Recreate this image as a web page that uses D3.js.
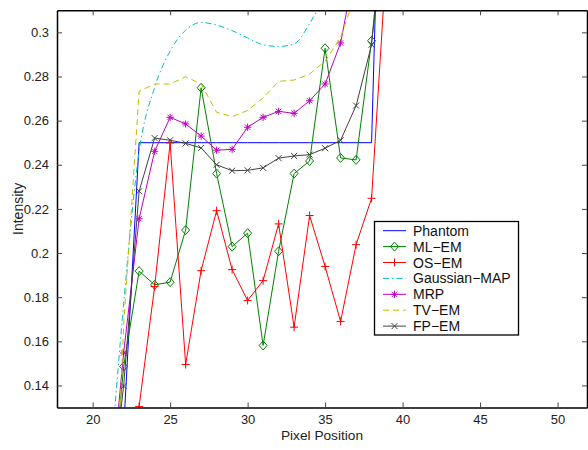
<!DOCTYPE html>
<html><head><meta charset="utf-8">
<script src="https://cdn.jsdelivr.net/npm/d3@7"></script>
<style>body{margin:0;background:#fff;}svg{display:block;font-family:"Liberation Sans",Arial,sans-serif;}</style>
</head><body><svg id="c" width="588" height="450"></svg>
<script>
const pixelPos = [21,22,23,24,25,26,27,28,29,30,31,32,33,34,35,36,37,38,39];
const phantom  = [0.10,0.12,0.25,0.25,0.25,0.25,0.25,0.25,0.25,0.25,0.25,0.25,0.25,0.25,0.25,0.25,0.25,0.25,0.50];
const mlem     = [0.07,0.1486,0.1918,0.1856,0.1868,0.2104,0.2749,0.236,0.2029,0.209,0.1581,0.2008,0.236,0.2417,0.2928,0.2431,0.2422,0.2962,0.35];
const osem     = [0.05,0.09,0.1305,0.1848,0.2499,0.1495,0.192,0.2192,0.1925,0.1785,0.1875,0.2132,0.1664,0.217,0.1939,0.169,0.2038,0.2248,0.338];
const gaussMap = [0.09,0.177,0.246,0.275,0.2915,0.301,0.3045,0.3033,0.3008,0.2975,0.2944,0.2936,0.2948,0.304,0.318,0.34,0.37,0.40,0.43];
const mrp      = [0.08,0.1547,0.2155,0.2461,0.2615,0.2585,0.253,0.2466,0.247,0.257,0.2615,0.2642,0.2633,0.269,0.2766,0.2952,0.332,0.37,0.41];
const tvem     = [0.0,0.167,0.2733,0.2766,0.2766,0.2799,0.2766,0.2638,0.2618,0.2646,0.2703,0.2778,0.2784,0.2811,0.2869,0.2977,0.318,0.34,0.37];
const fpem     = [0.08,0.1397,0.228,0.2521,0.2511,0.2497,0.2476,0.24,0.2373,0.2375,0.2386,0.243,0.244,0.2446,0.2475,0.2511,0.2668,0.2944,0.372];
const xTicks = [20,25,30,35,40,45,50];
const yTicks = [0.14,0.16,0.18,0.2,0.22,0.24,0.26,0.28,0.3];
const seriesNames = ["Phantom","ML\u2212EM","OS\u2212EM","Gaussian\u2212MAP","MRP","TV\u2212EM","FP\u2212EM"];

const series = [
  {name:seriesNames[0], v:phantom,  color:"#0000ff", dash:null, marker:null},
  {name:seriesNames[1], v:mlem,     color:"#008000", dash:null, marker:"diamond"},
  {name:seriesNames[2], v:osem,     color:"#ff0000", dash:null, marker:"plus"},
  {name:seriesNames[3], v:gaussMap, color:"#00bfbf", dash:"6,3,1.5,3", marker:null, smooth:true},
  {name:seriesNames[4], v:mrp,      color:"#bf00bf", dash:null, marker:"star"},
  {name:seriesNames[5], v:tvem,     color:"#bfbf00", dash:"6,4", marker:null},
  {name:seriesNames[6], v:fpem,     color:"#404040", dash:null, marker:"x"}
];

const L=57, R=587, T=10.3, B=407.5;
const x = d3.scaleLinear().domain([17.7,51.9]).range([L,R]);
const y = d3.scaleLinear().domain([0.13,0.31]).range([B,T]);
const svg = d3.select("#c");

svg.append("defs").append("clipPath").attr("id","clip")
  .append("rect").attr("x",L).attr("y",T).attr("width",R-L).attr("height",B-T);

function markerPath(type){
  switch(type){
    case "diamond": return "M0,-4.5L4,0L0,4.5L-4,0Z";
    case "plus": return "M-4,0H4M0,-4V4";
    case "star": return "M-3.6,0H3.6M0,-3.6V3.6M-2.6,-2.6L2.6,2.6M-2.6,2.6L2.6,-2.6";
    case "x": return "M-3,-3L3,3M-3,3L3,-3";
  }
}

const g = svg.append("g").attr("clip-path","url(#clip)");
series.forEach(s=>{
  const pts = pixelPos.map((p,i)=>[p,s.v[i]]);
  const line = d3.line().x(d=>x(d[0])).y(d=>y(d[1]))
    .curve(s.smooth ? d3.curveMonotoneX : d3.curveLinear);
  g.append("path").attr("d",line(pts)).attr("fill","none")
    .attr("stroke",s.color).attr("stroke-width",1)
    .attr("stroke-dasharray",s.dash);
  if(s.marker){
    g.selectAll(null).data(pts).enter().append("path")
      .attr("transform",d=>`translate(${x(d[0])},${y(d[1])})`)
      .attr("d",markerPath(s.marker)).attr("fill","none")
      .attr("stroke",s.color).attr("stroke-width",1);
  }
});

// axes box and ticks (MATLAB style, inward)
const xb = d3.axisBottom(x).tickValues(xTicks).tickSizeInner(-5).tickSizeOuter(0).tickPadding(7).tickFormat(d3.format("d"));
const xt = d3.axisTop(x).tickValues(xTicks).tickSizeInner(-5).tickSizeOuter(0).tickFormat("");
const yl = d3.axisLeft(y).tickValues(yTicks).tickSizeInner(-5).tickSizeOuter(0).tickPadding(8).tickFormat(d=>String(+d.toFixed(2)));
const yr = d3.axisRight(y).tickValues(yTicks).tickSizeInner(-5).tickSizeOuter(0).tickFormat("");
[[xb,`translate(0,${B})`],[xt,`translate(0,${T})`],[yl,`translate(${L},0)`],[yr,`translate(${R},0)`]].forEach(([a,tr])=>{
  const ag = svg.append("g").attr("transform",tr).call(a);
  ag.select(".domain").attr("stroke","#000").attr("stroke-width",1.5);
  ag.selectAll(".tick line").attr("stroke","#444").attr("stroke-width",1);
  ag.selectAll(".tick text").attr("font-size",13).attr("fill","#222")
    .attr("font-family","'Liberation Sans',Arial,sans-serif");
});

svg.append("text").attr("x",(L+R)/2).attr("y",439.5).attr("text-anchor","middle")
  .attr("font-size",13.7).attr("fill","#222").text("Pixel Position");
svg.append("text").attr("transform",`translate(23,${(T+B)/2}) rotate(-90)`).attr("text-anchor","middle")
  .attr("font-size",14).attr("fill","#222").text("Intensity");

// legend
const lg = svg.append("g");
lg.append("rect").attr("x",374.5).attr("y",221.5).attr("width",144).attr("height",113.5)
  .attr("fill","#fff").attr("stroke","#000").attr("stroke-width",1.3);
series.forEach((s,i)=>{
  const cy = 230.7 + i*15.9;
  lg.append("line").attr("x1",383).attr("x2",406).attr("y1",cy).attr("y2",cy)
    .attr("stroke",s.color).attr("stroke-width",1).attr("stroke-dasharray",s.dash);
  if(s.marker) lg.append("path").attr("transform",`translate(394.5,${cy})`)
    .attr("d",markerPath(s.marker)).attr("fill","none").attr("stroke",s.color);
  lg.append("text").attr("x",413).attr("y",cy).attr("dy","0.36em")
    .attr("font-size",14).attr("fill","#111").text(s.name);
});
</script></body></html>
